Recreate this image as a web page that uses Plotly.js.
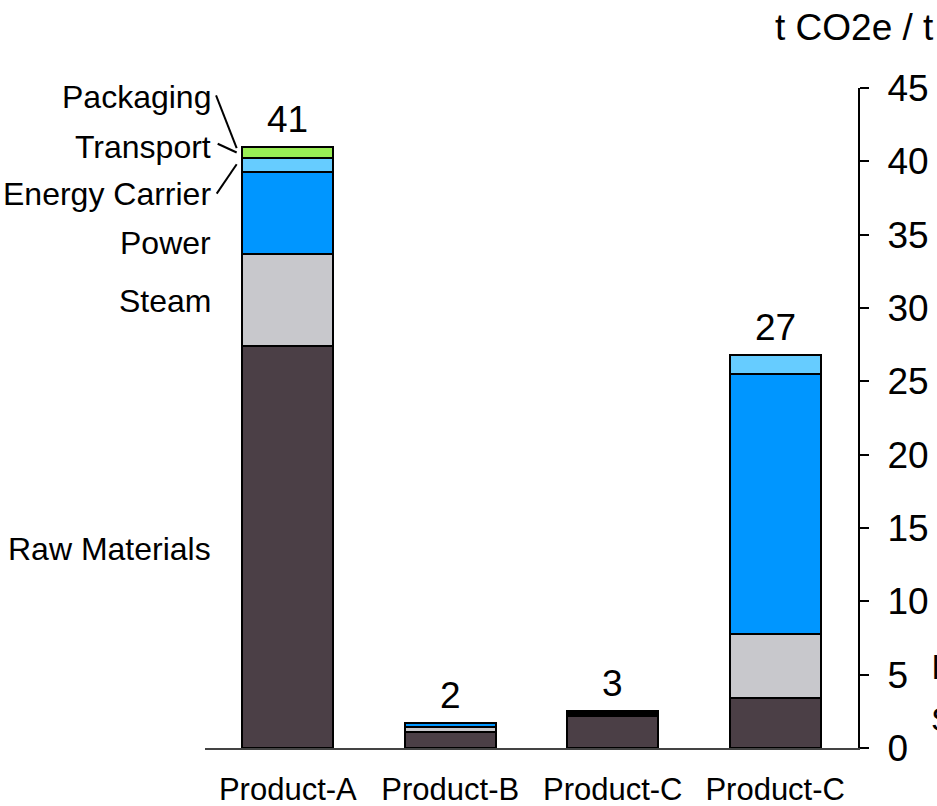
<!DOCTYPE html>
<html>
<head>
<meta charset="utf-8">
<script src="https://cdn.plot.ly/plotly-3.0.1.min.js"></script>
<style>html,body{margin:0;padding:0;background:#fff;}#chart{width:937px;height:806px;}</style>
</head>
<body>
<div id="chart"></div>
<script>
// ---- data ----
const xPos = [0, 1, 2, 3];
const categories = ["Product-A", "Product-B", "Product-C", "Product-C"];
const seriesNames = ["Raw Materials", "Steam", "Power", "Energy Carrier", "Transport", "Packaging"];
const rawMaterials  = [27.4, 1.12, 2.20, 3.43];
const steam         = [6.27, 0.30, 0.05, 4.37];
const power         = [5.60, 0.28, 0.08, 17.70];
const energyCarrier = [0.93, 0.00, 0.05, 1.30];
const transport     = [0.05, 0.00, 0.10, 0.00];
const packaging     = [0.75, 0.00, 0.05, 0.00];
const yTickVals = [0, 5, 10, 15, 20, 25, 30, 35, 40, 45];
const unitLabel = "t CO2e / t";

// ---- styles ----
const colors = ["#4b3f46", "#c8c8cc", "#0096ff", "#66ccff", "#3a3a3a", "#99ee55"];
const FONT = "Liberation Sans, Arial, sans-serif";
const seriesValues = [rawMaterials, steam, power, energyCarrier, transport, packaging];

const traces = seriesValues.map((vals, i) => ({
  type: "bar",
  name: seriesNames[i],
  x: xPos,
  y: vals,
  width: 0.56,
  marker: { color: colors[i], line: { color: "#000", width: 2 } },
  hoverinfo: "name+y"
}));

const totals = xPos.map((_, j) => seriesValues.reduce((s, arr) => s + arr[j], 0));

const annotations = [];
totals.forEach((t, j) => {
  annotations.push({
    x: xPos[j], y: t, xref: "x", yref: "y",
    text: String(Math.round(t)), showarrow: false,
    yanchor: "bottom", yshift: 5,
    font: { family: FONT, size: 37, color: "#000" }
  });
});

// left-hand series labels (label text y positions in axis units)
const labelY = [13.6, 30.5, 34.4, 37.8, 41.0, 44.4];
seriesNames.forEach((n, i) => {
  annotations.push({
    x: -0.46, y: labelY[i], xref: "x", yref: "y",
    text: n, showarrow: false, xanchor: "right", yanchor: "middle",
    font: { family: FONT, size: 32, color: "#000" }
  });
});

// unit label
annotations.push({
  x: 1.12, y: 1.092, xref: "paper", yref: "paper",
  text: unitLabel, showarrow: false, xanchor: "right", yanchor: "middle",
  font: { family: FONT, size: 37, color: "#000" }
});
// clipped text at right edge (cut off in the reference too)
annotations.push({
  x: 1.1105, y: 5.5, xref: "paper", yref: "y",
  text: "l", showarrow: false, xanchor: "left", yanchor: "middle",
  font: { family: FONT, size: 34, color: "#000" }
});
annotations.push({
  x: 1.108, y: 2.0, xref: "paper", yref: "y",
  text: "S", showarrow: false, xanchor: "left", yanchor: "middle",
  font: { family: FONT, size: 34, color: "#000" }
});

// leader lines for the thin segments
const lineStyle = { color: "#000", width: 2 };
const shapes = [
  { type: "line", xref: "x", yref: "y", x0: -0.442, y0: 44.5, x1: -0.315, y1: 40.9, line: lineStyle },
  { type: "line", xref: "x", yref: "y", x0: -0.432, y0: 41.2, x1: -0.315, y1: 40.6, line: lineStyle },
  { type: "line", xref: "x", yref: "y", x0: -0.438, y0: 37.8, x1: -0.315, y1: 39.8, line: lineStyle }
];

const layout = {
  width: 937, height: 806,
  margin: { l: 205, r: 79, t: 88, b: 58, pad: 0 },
  paper_bgcolor: "#fff", plot_bgcolor: "#fff",
  barmode: "stack",
  showlegend: false,
  font: { family: FONT, color: "#000" },
  xaxis: {
    range: [-0.51, 3.51],
    tickmode: "array", tickvals: xPos, ticktext: categories,
    showline: true, linecolor: "#444", linewidth: 2,
    ticks: "", showgrid: false, zeroline: false,
    tickfont: { family: FONT, size: 31, color: "#000" },
    ticklabelstandoff: 13
  },
  yaxis: {
    side: "right",
    range: [0, 45], tickmode: "array", tickvals: yTickVals,
    showline: true, linecolor: "#000", linewidth: 2,
    ticks: "outside", ticklen: 9, tickwidth: 2, tickcolor: "#000",
    showgrid: false, zeroline: false,
    tickfont: { family: FONT, size: 37, color: "#000" },
    ticklabelstandoff: 11
  },
  annotations: annotations,
  shapes: shapes
};

Plotly.newPlot("chart", traces, layout, { displayModeBar: false, staticPlot: true });
</script>
</body>
</html>
